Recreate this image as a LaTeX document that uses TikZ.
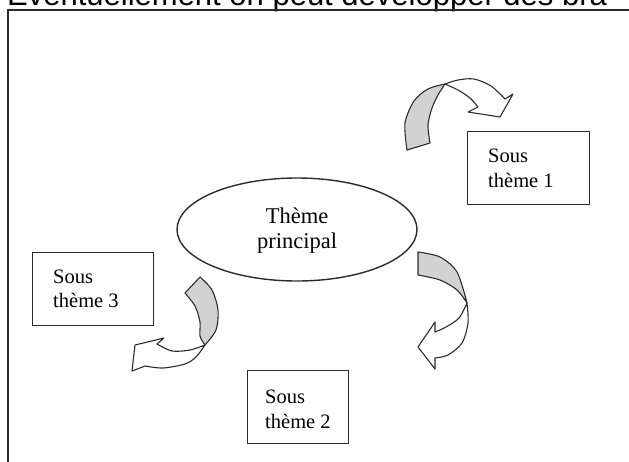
\documentclass[tikz,border=0pt]{standalone}
\usepackage{fontspec}
\usetikzlibrary{shapes.geometric}
\setmainfont{Liberation Serif}
\newfontfamily\headsans{Liberation Sans}
\definecolor{ink}{HTML}{2B2B2B}
\definecolor{backgray}{HTML}{D2D2D2}
\begin{document}
\begin{tikzpicture}[x=1pt,y=-1pt,
  frame/.style={draw=ink,line width=1.5pt},
  boxnode/.style={draw=ink,line width=1.4pt,rectangle,minimum width=#1,minimum height=73pt,inner sep=0pt,anchor=north west},
  boxtext/.style={anchor=base west,inner sep=0pt,font=\fontsize{20.5}{25}\selectfont},
  maintext/.style={anchor=base,inner sep=0pt,font=\fontsize{22.5}{25}\selectfont},
  backpart/.style={draw=ink,fill=backgray,line width=1.1pt,line join=round},
  frontpart/.style={draw=ink,fill=white,line width=1.1pt,line join=round}]
\useasboundingbox (0,0) rectangle (629,461);
\clip (0,0) rectangle (629,461);
% partial heading at top
\node[anchor=base west,inner sep=0pt,font=\headsans\fontsize{31}{34}\selectfont] (head) at (7,5) {Eventuellement on peut développer des bra};
% frame
\coordinate (ftl) at (8,10);
\coordinate (ftr) at (640,10);
\coordinate (fbl) at (8,470);
\draw[frame] (ftr) -- (ftl) -- (fbl);
% main ellipse
\node[draw=ink,line width=1.4pt,ellipse,minimum width=240pt,minimum height=103pt,inner sep=0pt] (main) at (297,229.5) {};
\node[maintext] (mainA) at (297,223) {Thème};
\node[maintext] (mainB) at (297,248) {principal};
% boxes
\node[boxnode=122pt] (b1) at (467,131) {};
\node[boxtext] (b1a) at (488,162) {Sous};
\node[boxtext] (b1b) at (488,187) {thème 1};
\node[boxnode=101pt] (b2) at (247,370) {};
\node[boxtext] (b2a) at (265,403) {Sous};
\node[boxtext] (b2b) at (265,428) {thème 2};
\node[boxnode=121pt] (b3) at (32,252) {};
\node[boxtext] (b3a) at (53,283) {Sous};
\node[boxtext] (b3b) at (53,307) {thème 3};
% curved arrow 1 (towards Sous theme 1)
\draw[backpart] plot[smooth] coordinates {(407,150) (405,123) (414,101) (428,89) (445,84)}
  -- plot[smooth] coordinates {(445,84) (438,95) (432,108) (428,125) (430,143)} -- cycle;
\draw[frontpart] plot[smooth] coordinates {(445,84) (458,80) (474,79) (491,86) (505,99)}
  -- (513,94) -- (500,117) -- (468,112) -- (478,107)
  -- plot[smooth] coordinates {(478,107) (470,98) (458,90) (445,84)} -- cycle;
% curved arrow 2 (towards Sous theme 2)
\draw[backpart] plot[smooth] coordinates {(418,252) (440,257) (457,272) (467,303)}
  -- plot[smooth] coordinates {(467,303) (457,290) (440,280) (418,275)} -- cycle;
\draw[frontpart] plot[smooth] coordinates {(467,303) (468,323) (462,343) (448,355) (435,358)}
  -- (435,369) -- (418,347) -- (435,322) -- (435,332)
  -- plot[smooth] coordinates {(435,332) (446,327) (459,318) (467,303)} -- cycle;
% curved arrow 3 (towards Sous theme 3)
\draw[backpart] plot[smooth] coordinates {(200,277) (212,290) (218,310) (216,330) (205,345)}
  -- plot[smooth] coordinates {(205,345) (200,336) (200,322) (195,306) (185,293)} -- cycle;
\draw[frontpart] plot[smooth] coordinates {(205,345) (196,357) (185,364) (163,368) (145,366)}
  -- (132,371) -- (135,345) -- (164,338) -- (157,344)
  -- plot[smooth] coordinates {(157,344) (172,351) (190,350) (205,345)} -- cycle;
\end{tikzpicture}
\end{document}
